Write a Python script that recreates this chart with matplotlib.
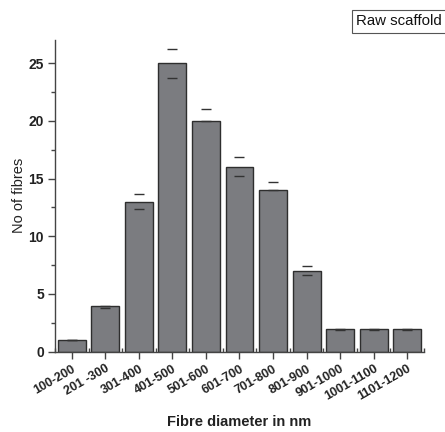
import matplotlib
matplotlib.use("Agg")
import matplotlib.pyplot as plt
import numpy as np
from matplotlib.ticker import MultipleLocator, FixedLocator

categories = ["100-200", "201 -300", "301-400", "401-500", "501-600", "601-700",
              "701-800", "801-900", "901-1000", "1001-1100", "1101-1200"]
counts = [1, 4, 13, 25, 20, 16, 14, 7, 2, 2, 2]
err_upper = [0, 0, 0.69, 1.25, 1.0, 0.84, 0.7, 0.38, 0, 0, 0]
err_lower = [0, 0.2, 0.64, 1.3, 0, 0.81, 0, 0.37, 0.15, 0.15, 0.15]

plt.rcParams['font.family'] = ['Liberation Sans', 'DejaVu Sans']

fig = plt.figure(figsize=(4.45, 4.32), dpi=100)
ax = fig.add_axes([0.1236, 0.1859, 0.8292, 0.7215])

x = np.arange(len(categories))
ax.bar(x, counts, width=0.83, color='#7b7c80', edgecolor='#2e2e2e', linewidth=1.0, zorder=2)
ax.errorbar(x, counts, yerr=[err_lower, err_upper], fmt='none', ecolor='#333333',
            elinewidth=0, capsize=3.5, capthick=1.0, zorder=3)

ax.set_xlim(-0.5, 10.5)
ax.set_ylim(0, 27)

for s in ['top', 'right']:
    ax.spines[s].set_visible(False)
for s in ['left', 'bottom']:
    ax.spines[s].set_color('#444444')
    ax.spines[s].set_linewidth(1.0)

ax.set_xticks(x)
ax.set_xticklabels(categories, rotation=30, ha='right', rotation_mode='anchor',
                   fontsize=9, fontweight='bold', color='#222222')
ax.xaxis.set_minor_locator(FixedLocator(np.arange(-0.5, 11, 1.0)))
ax.yaxis.set_major_locator(MultipleLocator(5))
ax.yaxis.set_minor_locator(MultipleLocator(2.5))
ax.tick_params(axis='x', which='major', direction='out', length=5, width=1, color='#444444', pad=3)
ax.tick_params(axis='x', which='minor', direction='in', length=3, width=1, color='#444444')
ax.tick_params(axis='y', which='major', direction='out', length=5, width=1, color='#444444',
               pad=3, labelsize=10, labelcolor='#222222')
ax.tick_params(axis='y', which='minor', direction='out', length=3, width=1, color='#444444')
ax.set_yticks([0, 5, 10, 15, 20, 25])
ax.set_yticklabels(['0', '5', '10', '15', '20', '25'], fontweight='bold', fontsize=10, color='#222222')

ax.set_xlabel("Fibre diameter in nm", fontsize=10.5, fontweight='bold', color='#222222', labelpad=9)
ax.set_ylabel("No of fibres", fontsize=10.5, color='#222222', labelpad=2)

fig.text(0.800, 0.951, "Raw scaffold", fontsize=10.8, color='#111111', va='center', ha='left',
         bbox=dict(boxstyle='square,pad=0.3', facecolor='white', edgecolor='#555555', linewidth=0.8))

fig.savefig("out.png", dpi=100)
